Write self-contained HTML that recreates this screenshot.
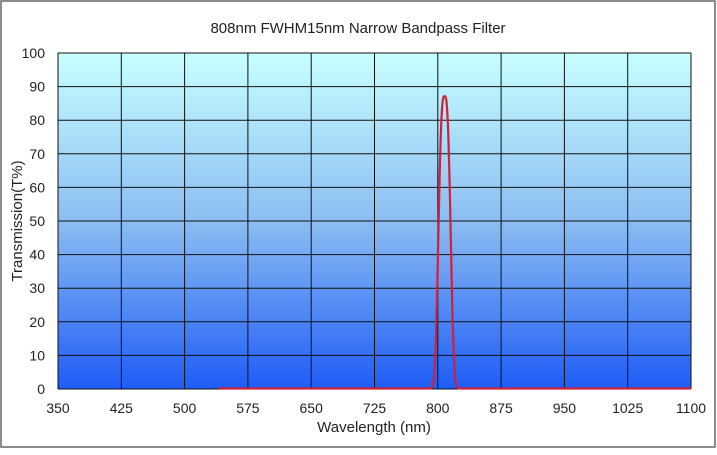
<!DOCTYPE html>
<html><head><meta charset="utf-8"><style>
body{margin:0;background:#fff;width:717px;height:450px;overflow:hidden;font-family:"Liberation Sans",sans-serif}
</style></head><body>
<svg width="717" height="450" xmlns="http://www.w3.org/2000/svg">
<defs><linearGradient id="g" x1="0" y1="0" x2="0" y2="1">
<stop offset="0" stop-color="#c8ffff"/><stop offset="0.5" stop-color="#8cbdf2"/><stop offset="1" stop-color="#1e5cf6"/>
</linearGradient></defs>
<rect x="1" y="1" width="714" height="446" fill="#fff" stroke="#666" stroke-width="1.5"/>
<text x="358" y="33" font-size="15" text-anchor="middle" fill="#222">808nm FWHM15nm Narrow Bandpass Filter</text>
<rect x="58" y="53" width="633" height="336" fill="url(#g)"/>
<g id="grid" stroke="#111" stroke-width="1"></g>
<g id="lab" font-size="14" fill="#222"></g>
<text x="374" y="432" font-size="15" text-anchor="middle" fill="#222">Wavelength (nm)</text>
<text transform="translate(22,221) rotate(-90)" font-size="15" text-anchor="middle" fill="#222">Transmission(T%)</text>
<path id="c" fill="none" stroke="#d0203a" stroke-width="2.2"/>
</svg>
<script>
var ns="http://www.w3.org/2000/svg",g=document.getElementById('grid'),l=document.getElementById('lab');
function el(p,t,a,txt){var e=document.createElementNS(ns,t);for(var k in a)e.setAttribute(k,a[k]);if(txt!==undefined)e.textContent=txt;p.appendChild(e);}
var L=58,R=691,T=53,B=389;
for(var i=0;i<=10;i++){var x=L+(R-L)*i/10;el(g,'line',{x1:x,x2:x,y1:T,y2:B});
el(l,'text',{x:x,y:413,'text-anchor':'middle'},String(350+75*i));
var y=B-(B-T)*i/10;el(g,'line',{x1:L,x2:R,y1:y,y2:y});
el(l,'text',{x:45,y:y+5,'text-anchor':'end'},String(i*10));}
var d='';for(var w=540;w<=1100;w+=0.25){var t=87*Math.exp(-Math.LN2*Math.pow(Math.abs((w-808)/7.5),3));
var x=L+(w-350)/750*(R-L),y=B-t/100*(B-T)-0.5;d+=(d?'L':'M')+x.toFixed(2)+','+y.toFixed(2);}
document.getElementById('c').setAttribute('d',d);
</script>
</body></html>
